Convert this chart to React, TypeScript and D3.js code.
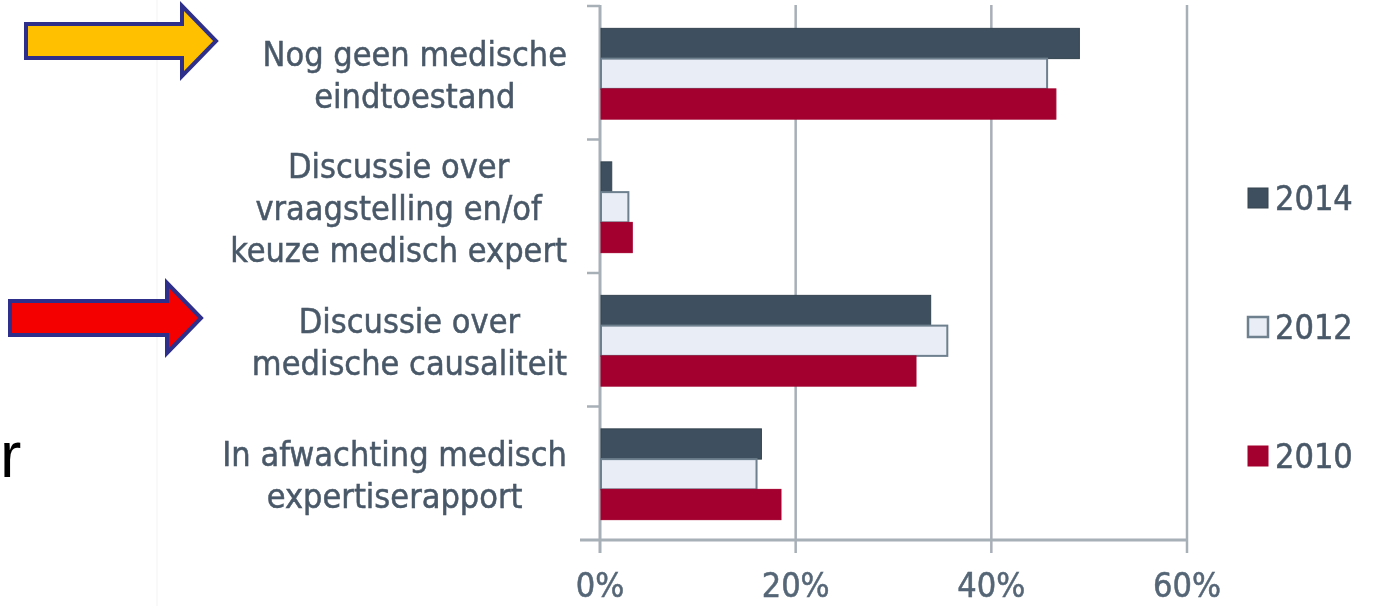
import { useEffect, useRef } from 'react';
import * as d3 from 'd3';

// categories (top to bottom), line breaks as in the original slide
const CATEGORIES = [
  'Nog geen medische\neindtoestand',
  'Discussie over\nvraagstelling en/of\nkeuze medisch expert',
  'Discussie over\nmedische causaliteit',
  'In afwachting medisch\nexpertiserapport',
];
const YEARS = ['2014', '2012', '2010'];
const VALUES_2014 = [49.0, 1.2, 33.8, 16.5];
const VALUES_2012 = [45.7, 2.9, 35.5, 16.0];
const VALUES_2010 = [46.6, 3.3, 32.3, 18.5];
const X_TICKS = [0, 20, 40, 60];

// slide annotations: arrows pointing at two categories
const ARROWS = [
  { category: 0, fill: '#FFC000' },
  { category: 2, fill: '#F50000' },
];

const COLORS: Record<string, { fill: string; stroke: string }> = {
  '2014': { fill: '#3e4f5f', stroke: '#34444f' },
  '2012': { fill: '#e9edf5', stroke: '#6e7f8e' },
  '2010': { fill: '#a3002f', stroke: '#a3002f' },
};

const FONT = "'DejaVu Sans Condensed', 'DejaVu Sans', sans-serif";
const TEXT_COLOR = '#4a5968';
const GRID = '#a7afb7';

export default function App() {
  const svgRef = useRef<SVGSVGElement>(null);

  useEffect(() => {
    if (!svgRef.current) return;
    document.body.style.margin = '0';

    const width = 1392;
    const height = 606;
    const svg = d3.select(svgRef.current);
    svg.selectAll('*').remove();
    svg.attr('width', width).attr('height', height).attr('viewBox', `0 0 ${width} ${height}`);

    svg.append('rect').attr('width', width).attr('height', height).attr('fill', '#ffffff');

    const defs = svg.append('defs');
    defs.append('filter').attr('id', 'soft')
      .append('feGaussianBlur').attr('stdDeviation', 0.6);

    // faint edge of the pasted picture
    svg.append('line')
      .attr('x1', 157).attr('x2', 157).attr('y1', 0).attr('y2', height)
      .attr('stroke', '#f3f3f3').attr('stroke-width', 1);

    const series: Record<string, number[]> = {
      '2014': VALUES_2014,
      '2012': VALUES_2012,
      '2010': VALUES_2010,
    };

    const x = d3.scaleLinear().domain([0, 60]).range([600, 1187]);
    const y = d3.scaleBand<number>()
      .domain(CATEGORIES.map((_, i) => i))
      .range([6, 540])
      .paddingInner(0.32)
      .paddingOuter(0.16);
    const ySub = d3.scaleBand<string>().domain(YEARS).range([0, y.bandwidth()]);
    const step = y.step();
    const bounds = d3.range(CATEGORIES.length + 1).map((i) => 6 + i * step);

    // === gridlines ===
    const grid = svg.append('g');
    X_TICKS.forEach((t) => {
      grid.append('line')
        .attr('x1', x(t)).attr('x2', x(t))
        .attr('y1', 5).attr('y2', 553)
        .attr('stroke', GRID).attr('stroke-width', t === 0 ? 3 : 2.5);
    });
    // bottom axis
    grid.append('line')
      .attr('x1', 580).attr('x2', x(60))
      .attr('y1', bounds[bounds.length - 1]).attr('y2', bounds[bounds.length - 1])
      .attr('stroke', GRID).attr('stroke-width', 3);
    // category tick marks
    bounds.slice(0, -1).forEach((b) => {
      grid.append('line')
        .attr('x1', 587).attr('x2', x(0))
        .attr('y1', b).attr('y2', b)
        .attr('stroke', GRID).attr('stroke-width', 2.5);
    });

    // === bars ===
    const bars = svg.append('g');
    CATEGORIES.forEach((_, ci) => {
      YEARS.forEach((yr) => {
        const v = series[yr][ci];
        bars.append('rect')
          .attr('x', x(0) + 1)
          .attr('y', (y(ci) ?? 0) + (ySub(yr) ?? 0) + 1)
          .attr('width', x(v) - x(0) - 1)
          .attr('height', ySub.bandwidth())
          .attr('fill', COLORS[yr].fill)
          .attr('stroke', COLORS[yr].stroke)
          .attr('stroke-width', yr === '2012' ? 2 : 1);
      });
    });

    // === x tick labels ===
    svg.append('g').selectAll('text')
      .data(X_TICKS)
      .join('text')
      .attr('x', (d) => x(d))
      .attr('y', 585)
      .attr('text-anchor', 'middle')
      .attr('dominant-baseline', 'central')
      .attr('font-family', FONT)
      .attr('font-size', 34)
      .attr('fill', '#556677')
      .attr('stroke', '#556677')
      .attr('stroke-width', 0.5)
      .attr('filter', 'url(#soft)')
      .text((d) => `${d}%`);

    // === category labels: block right edge at 567, lines centred ===
    const lineH = 42;
    const labels = svg.append('g').attr('filter', 'url(#soft)');
    CATEGORIES.forEach((cat, ci) => {
      const lines = cat.split('\n');
      const cy = (y(ci) ?? 0) + y.bandwidth() / 2 + 2;
      const texts = lines.map((ln, li) =>
        labels.append('text')
          .attr('y', cy + (li - (lines.length - 1) / 2) * lineH)
          .attr('text-anchor', 'middle')
          .attr('dominant-baseline', 'central')
          .attr('font-family', FONT)
          .attr('font-size', 34)
          .attr('fill', TEXT_COLOR)
          .attr('stroke', TEXT_COLOR)
          .attr('stroke-width', 0.5)
          .text(ln)
      );
      const maxW = d3.max(texts, (t) => (t.node() as SVGTextElement).getComputedTextLength()) ?? 0;
      texts.forEach((t) => t.attr('x', 567 - maxW / 2));
    });

    // === legend ===
    const ly = d3.scalePoint<string>().domain(YEARS).range([198, 456]);
    const legend = svg.append('g');
    YEARS.forEach((yr) => {
      const yy = ly(yr) ?? 0;
      legend.append('rect')
        .attr('x', 1248).attr('y', yy - 10)
        .attr('width', 20).attr('height', 20)
        .attr('fill', COLORS[yr].fill)
        .attr('stroke', COLORS[yr].stroke)
        .attr('stroke-width', yr === '2012' ? 2.5 : 1);
      legend.append('text')
        .attr('x', 1275).attr('y', yy)
        .attr('dominant-baseline', 'central')
        .attr('font-family', FONT)
        .attr('font-size', 34)
        .attr('fill', TEXT_COLOR)
        .attr('stroke', TEXT_COLOR)
        .attr('stroke-width', 0.5)
        .attr('filter', 'url(#soft)')
        .text(yr);
    });

    // === annotation arrows ===
    const arrowShape = (tipX: number, tipY: number, tailX: number) => {
      const headLen = 34;
      const bodyHalf = 17;
      const headHalf = 35;
      const hx = tipX - headLen;
      return [
        [tailX, tipY - bodyHalf], [hx, tipY - bodyHalf], [hx, tipY - headHalf],
        [tipX, tipY], [hx, tipY + headHalf], [hx, tipY + bodyHalf], [tailX, tipY + bodyHalf],
      ].map((p) => p.join(',')).join(' ');
    };
    const arrowPos = [
      { tipX: 216, tipY: 41, tailX: 26 },
      { tipX: 201, tipY: 318, tailX: 10 },
    ];
    ARROWS.forEach((a, i) => {
      svg.append('polygon')
        .attr('points', arrowShape(arrowPos[i].tipX, arrowPos[i].tipY, arrowPos[i].tailX))
        .attr('fill', a.fill)
        .attr('stroke', '#2e2f8a')
        .attr('stroke-width', 4)
        .attr('stroke-linejoin', 'miter');
    });

    // leftover text at the left edge of the slide
    svg.append('text')
      .attr('x', 0).attr('y', 477)
      .attr('font-family', "'Liberation Sans', Arial, sans-serif")
      .attr('font-size', 64)
      .attr('fill', '#000000')
      .text('r');
  }, []);

  return <svg ref={svgRef} style={{ display: 'block' }} />;
}
